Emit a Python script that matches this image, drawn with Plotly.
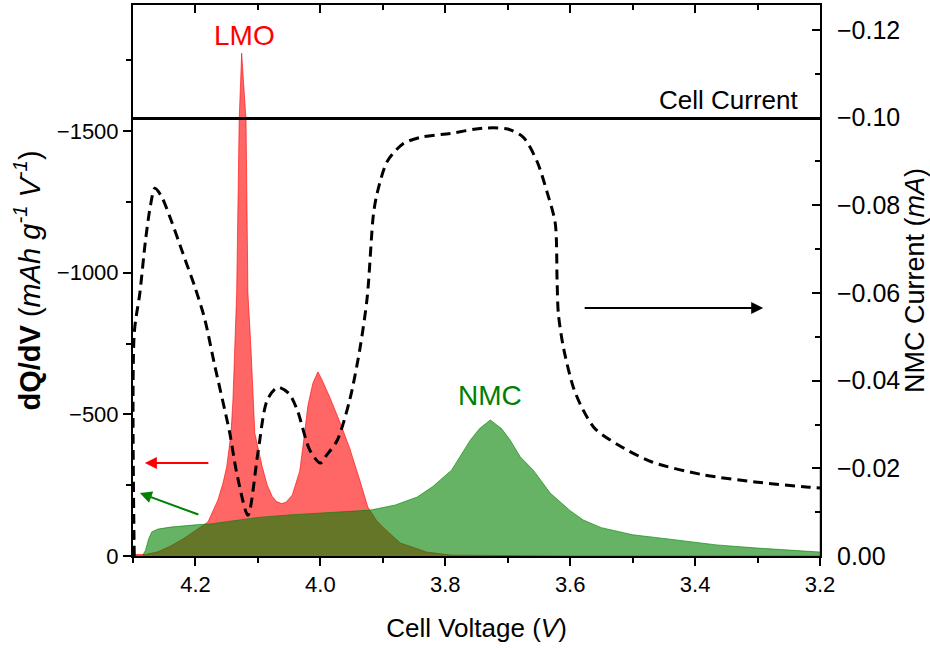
import plotly.graph_objects as go

# ---------------- data ----------------
X_RANGE = [4.30, 3.20]
LEFT_RANGE = [0, -1945]
RIGHT_RANGE = [0, -0.1257]

lmo_v = [4.300, 4.280, 4.260, 4.240, 4.220, 4.200, 4.180, 4.164, 4.156, 4.150, 4.143,
         4.140, 4.137, 4.134, 4.130, 4.126, 4.119, 4.116, 4.111, 4.108, 4.105, 4.093,
         4.085, 4.077, 4.070, 4.062, 4.055, 4.045, 4.033, 4.026, 4.020, 4.012, 4.004, 3.998,
         3.985, 3.968, 3.953, 3.937, 3.924, 3.910, 3.900, 3.872, 3.830, 3.790, 3.600, 3.200, 3.200]
lmo_dqdv = [-5, -5, -15, -35, -60, -90, -120, -198, -257, -314, -434,
            -550, -727, -928, -1538, -1775, -1538, -928, -727, -550, -434, -314,
            -250, -210, -192, -185, -190, -215, -300, -420, -530, -610, -650, -625,
            -561, -469, -380, -268, -173, -125, -102, -46, -14, -3, 0, 0, -314]

nmc_v = [4.300, 4.285, 4.280, 4.275, 4.270, 4.260, 4.240, 4.220, 4.200, 4.177, 4.150,
         4.120, 4.100, 4.050, 4.000, 3.950, 3.920, 3.880, 3.845, 3.820, 3.790, 3.760,
         3.745, 3.728, 3.710, 3.696, 3.680, 3.659, 3.632, 3.600, 3.579, 3.550, 3.500,
         3.450, 3.400, 3.365, 3.300, 3.250, 3.205, 3.200]
nmc_dqdv = [0, 0, -20, -60, -85, -95, -102, -107, -110, -113, -122,
            -130, -136, -145, -152, -158, -162, -180, -208, -245, -303, -409,
            -450, -480, -450, -409, -350, -303, -222, -160, -127, -100, -75,
            -62, -48, -39, -28, -20, -14, -14]

cur_v = [4.298, 4.298, 4.289, 4.280, 4.272, 4.265, 4.255, 4.240, 4.220, 4.200, 4.185,
         4.170, 4.145, 4.134, 4.116, 4.100, 4.085, 4.068, 4.050, 4.037, 4.017, 4.000,
         3.990, 3.973, 3.953, 3.937, 3.925, 3.915, 3.909, 3.893, 3.868, 3.840, 3.792,
         3.740, 3.700, 3.675, 3.653, 3.637, 3.624, 3.621, 3.619, 3.611, 3.595, 3.580,
         3.560, 3.525, 3.470, 3.386, 3.304, 3.218, 3.200]
nmc_current = [0.0, -0.0508, -0.0600, -0.0720, -0.0800, -0.0839, -0.0822, -0.0770, -0.0690,
               -0.0610, -0.0540, -0.0440, -0.0280, -0.0190, -0.0093, -0.0235, -0.0356,
               -0.0385, -0.0370, -0.0333, -0.0242, -0.0212, -0.0230, -0.0264, -0.0356,
               -0.0470, -0.0590, -0.0780, -0.0828, -0.0900, -0.0940, -0.0955, -0.0964,
               -0.0976, -0.0974, -0.0955, -0.0900, -0.0830, -0.0760, -0.0630, -0.0554,
               -0.0477, -0.0385, -0.0335, -0.0290, -0.0255, -0.0215, -0.0185, -0.0169,
               -0.0157, -0.0155]

cell_current_v = X_RANGE
cell_current = [-0.0998, -0.0998]

# ---------------- figure ----------------
FONT = "Liberation Sans, Arial, sans-serif"
fig = go.Figure()

fig.add_trace(go.Scatter(x=lmo_v, y=lmo_dqdv, mode="lines", fill="tozeroy",
                         line=dict(color="rgba(255,0,0,0.6)", width=1),
                         fillcolor="rgba(255,0,0,0.6)", showlegend=False,
                         xaxis="x", yaxis="y"))
fig.add_trace(go.Scatter(x=nmc_v, y=nmc_dqdv, mode="lines", fill="tozeroy",
                         line=dict(color="rgba(0,128,0,0.6)", width=1),
                         fillcolor="rgba(0,128,0,0.6)", showlegend=False,
                         xaxis="x", yaxis="y"))
fig.add_trace(go.Scatter(x=cell_current_v, y=cell_current, mode="lines",
                         line=dict(color="black", width=3), showlegend=False,
                         xaxis="x2", yaxis="y2"))
fig.add_trace(go.Scatter(x=cur_v, y=nmc_current, mode="lines",
                         line=dict(color="black", width=3, dash="10px,6px", shape="spline",
                                   smoothing=0.8),
                         showlegend=False, xaxis="x2", yaxis="y2"))

axis_common = dict(showline=True, linecolor="black", linewidth=2, showgrid=False,
                   zeroline=False, tickcolor="black", tickwidth=2)
tick_font = dict(family=FONT, size=22, color="black")

fig.update_layout(
    width=930, height=648,
    margin=dict(l=133, r=110, t=5, b=92),
    paper_bgcolor="white", plot_bgcolor="white",
    xaxis=dict(range=X_RANGE, dtick=0.2, tick0=0, tickformat=".1f", ticks="outside", ticklen=8,
               tickfont=tick_font,
               minor=dict(dtick=0.1, ticks="outside", ticklen=5, tickcolor="black", tickwidth=2),
               title=dict(text="Cell Voltage (<i>V</i>)", font=dict(family=FONT, size=26, color="black"),
                          standoff=22),
               **axis_common),
    yaxis=dict(range=LEFT_RANGE, dtick=500, tick0=0, ticks="outside", ticklen=8,
               tickfont=tick_font,
               minor=dict(dtick=250, ticks="outside", ticklen=5, tickcolor="black", tickwidth=2),
               title=dict(text="<b>dQ/dV</b> (<i>mAh g<sup>-1</sup> V<sup>-1</sup></i>)",
                          font=dict(family=FONT, size=29, color="black"), standoff=8),
               **axis_common),
    xaxis2=dict(range=X_RANGE, overlaying="x", side="top", anchor="y2", dtick=0.2, tick0=0,
                ticks="inside", ticklen=8, showticklabels=False,
                minor=dict(dtick=0.1, ticks="inside", ticklen=5, tickcolor="black", tickwidth=2),
                **axis_common),
    yaxis2=dict(range=RIGHT_RANGE, overlaying="y", side="right", anchor="x2", dtick=0.02, tick0=0,
                tickformat=".2f", ticks="inside", ticklen=8, ticklabelstandoff=10,
                tickfont=dict(family=FONT, size=25, color="black"),
                minor=dict(dtick=0.01, ticks="inside", ticklen=5, tickcolor="black", tickwidth=2),
                title=dict(text="NMC Current (<i>mA</i>)", font=dict(family=FONT, size=27, color="black"),
                           standoff=2),
                **axis_common),
)

fig.add_annotation(x=4.121, y=-1838, xref="x", yref="y", text="LMO", showarrow=False,
                   font=dict(family=FONT, size=28, color="red"))
fig.add_annotation(x=3.728, y=-568, xref="x", yref="y", text="NMC", showarrow=False,
                   font=dict(family=FONT, size=28, color="green"))
fig.add_annotation(x=3.232, y=-1609, xref="x", yref="y", text="Cell Current", showarrow=False,
                   xanchor="right", font=dict(family=FONT, size=26, color="black"))
# arrows
fig.add_annotation(x=4.281, y=-328, xref="x", yref="y", ax=65, ay=0, text="", showarrow=True,
                   arrowhead=2, arrowsize=1.2, arrowwidth=2, arrowcolor="red")
fig.add_annotation(x=4.289, y=-222, xref="x", yref="y", ax=60, ay=22, text="", showarrow=True,
                   arrowhead=2, arrowsize=1.2, arrowwidth=2, arrowcolor="green")
fig.add_annotation(x=3.291, y=-875, xref="x", yref="y", ax=-180, ay=0, text="", showarrow=True,
                   arrowhead=2, arrowsize=1.2, arrowwidth=2, arrowcolor="black")

fig.write_html("out.html")
